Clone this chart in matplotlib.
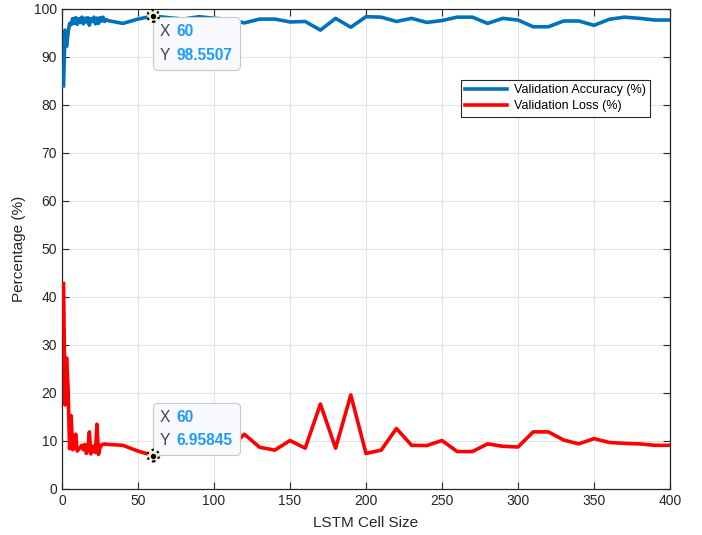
import matplotlib
matplotlib.use('Agg')
import matplotlib.pyplot as plt
from matplotlib.offsetbox import TextArea, HPacker, VPacker, AnnotationBbox

plt.rcParams['font.family'] = ['Liberation Sans', 'DejaVu Sans']

cell_size = list(range(1, 31)) + list(range(40, 401, 10))

val_acc = [84.0, 95.6, 92.2, 95.0, 97.0, 96.7, 98.0, 97.0, 98.2, 96.8,
           98.0, 97.2, 98.3, 96.9, 98.1, 97.3, 98.2, 96.6, 98.0, 97.4,
           98.3, 96.9, 98.1, 97.0, 98.2, 97.5, 98.3, 97.4, 97.8, 97.6,
           97.0, 97.9, 98.5507, 98.2, 97.9, 98.4, 98.06, 97.85, 97.1, 97.9,
           97.9, 97.3, 97.4, 95.6, 98.05, 96.2, 98.4, 98.3, 97.4, 98.05,
           97.2, 97.6, 98.3, 98.3, 97.0, 98.05, 97.7, 96.3, 96.3, 97.5,
           97.5, 96.6, 97.85, 98.3, 98.05, 97.7, 97.7]

val_loss = [42.8, 17.5, 27.3, 21.0, 8.4, 15.3, 8.2, 8.5, 11.4, 7.9,
            8.3, 8.6, 9.1, 8.2, 9.3, 7.4, 8.0, 11.9, 7.3, 8.2,
            9.0, 7.6, 13.5, 7.2, 8.6, 9.2, 9.3, 9.4, 9.3, 9.3,
            9.1, 7.9, 6.95845, 7.5, 7.8, 7.3, 8.6, 8.5, 11.4, 8.7,
            8.1, 10.1, 8.5, 17.7, 8.5, 19.6, 7.4, 8.1, 12.6, 9.1,
            9.05, 10.1, 7.8, 7.8, 9.4, 8.9, 8.75, 11.9, 11.9, 10.2,
            9.4, 10.5, 9.7, 9.5, 9.4, 9.1, 9.1]

tip_x = 60
tip_acc = 98.5507
tip_loss = 6.95845

blue = '#0072BD'
red = '#FF0000'
dark = '#262626'

fig = plt.figure(figsize=(7.02, 5.35), dpi=100)
ax = fig.add_axes([62 / 702, 1 - 489 / 535, 608 / 702, 480 / 535])

ax.plot(cell_size, val_acc, color=blue, lw=2.6, label='Validation Accuracy (%)', zorder=3)
ax.plot(cell_size, val_loss, color=red, lw=2.6, label='Validation Loss (%)', zorder=3)

ax.set_xlim(0, 400)
ax.set_ylim(0, 100)
ax.set_xticks(range(0, 401, 50))
ax.set_yticks(range(0, 101, 10))
ax.grid(True, color='#e3e3e3', lw=0.8)
ax.set_axisbelow(True)
ax.tick_params(direction='in', top=True, right=True, length=5, width=0.8,
               colors=dark, labelsize=10)
for s in ax.spines.values():
    s.set_color(dark)
    s.set_linewidth(0.9)

ax.set_xlabel('LSTM Cell Size', fontsize=11, color=dark, labelpad=6)
ax.set_ylabel('Percentage (%)', fontsize=11, color=dark, labelpad=6)

leg = ax.legend(loc='upper right', bbox_to_anchor=(0.967, 0.852), borderaxespad=0,
                fontsize=9, fancybox=False, framealpha=1, edgecolor=dark,
                handlelength=3.4, borderpad=0.35, labelspacing=0.3, handletextpad=0.5)
leg.get_frame().set_linewidth(0.8)


def datatip(y, offset, align):
    rows = []
    for name, txt in (('X', str(tip_x)), ('Y', str(y))):
        rows.append(HPacker(children=[
            TextArea(name, textprops=dict(color='#404040', fontsize=11.2)),
            TextArea(txt, textprops=dict(color='#1a9cff', fontsize=11.2, fontweight='bold')),
        ], sep=5, pad=0, align='baseline'))
    box = VPacker(children=rows, sep=6, pad=0, align='left')
    ab = AnnotationBbox(box, (tip_x, y), xybox=offset, boxcoords='offset points',
                        box_alignment=align, frameon=True, pad=0.5,
                        bboxprops=dict(boxstyle='round,pad=0.5,rounding_size=0.3',
                                       fc='#f8f9fd', ec='#c9c9c9', lw=0.8),
                        zorder=5)
    ax.add_artist(ab)
    ax.scatter([tip_x], [y], s=70, facecolor='#f3efcf', edgecolor='black',
               linewidths=1.6, linestyle=':', zorder=6, clip_on=False)
    ax.scatter([tip_x], [y], s=8, color='black', zorder=7, clip_on=False)


datatip(tip_acc, (4.5, -6), (0, 1))
datatip(tip_loss, (4.5, 5.5), (0, 0))

fig.savefig('out.png', dpi=100)
